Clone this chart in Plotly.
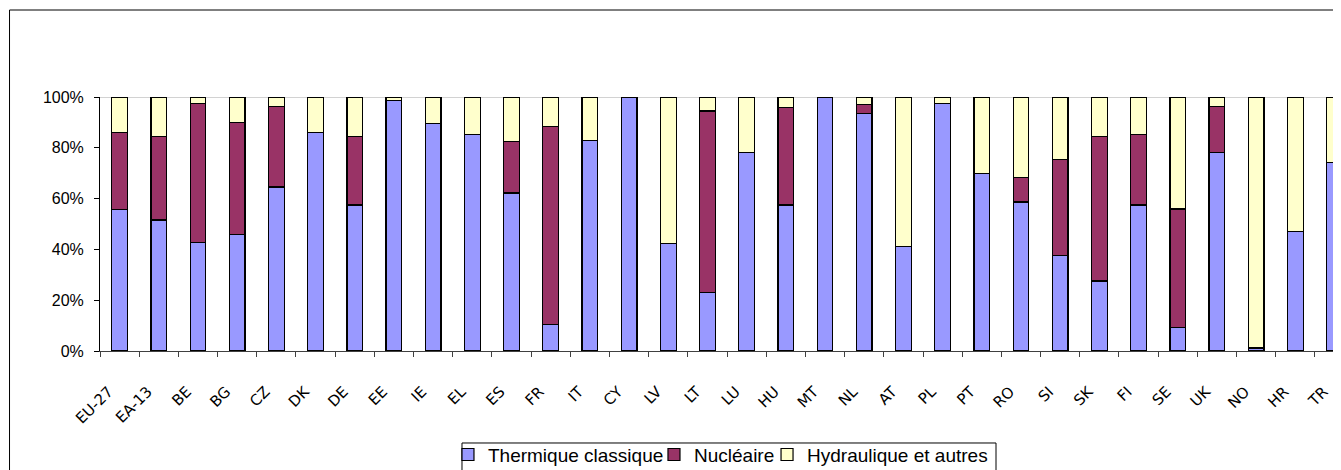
import plotly.graph_objects as go

categories = ["EU-27", "EA-13", "BE", "BG", "CZ", "DK", "DE", "EE", "IE", "EL", "ES", "FR",
              "IT", "CY", "LV", "LT", "LU", "HU", "MT", "NL", "AT", "PL", "PT", "RO", "SI",
              "SK", "FI", "SE", "UK", "NO", "HR", "TR"]

thermique = [55.8, 51.6, 42.8, 45.8, 64.6, 85.9, 57.5, 98.7, 89.5, 85.3, 62.2, 10.4,
             82.9, 100.0, 42.2, 22.9, 78.2, 57.5, 100.0, 93.6, 41.1, 97.6, 70.0, 58.7, 37.5,
             27.6, 57.5, 9.2, 78.2, 1.2, 47.0, 74.2]
nucleaire = [30.1, 33.0, 54.8, 44.2, 31.7, 0.0, 27.1, 0.0, 0.0, 0.0, 20.2, 77.9,
             0.0, 0.0, 0.0, 71.6, 0.0, 38.3, 0.0, 3.6, 0.0, 0.0, 0.0, 9.5, 37.8,
             57.0, 27.8, 46.7, 18.1, 0.0, 0.0, 0.0]
hydraulique = [round(100 - t - n, 1) for t, n in zip(thermique, nucleaire)]

series_names = ["Thermique classique", "Nucléaire", "Hydraulique et autres"]
series_colors = ["#9999FF", "#993366", "#FFFFCC"]
legend_ids = ["legend", "legend2", "legend3"]
legend_x = [0.2804, 0.4464, 0.5375]

fig = go.Figure()
for name, vals, col, lid in zip(series_names, [thermique, nucleaire, hydraulique],
                                series_colors, legend_ids):
    fig.add_trace(go.Bar(
        x=categories, y=[v / 100 for v in vals], name=name,
        marker=dict(color=col, line=dict(color="#000000", width=1.2)),
        width=0.4, legend=lid,
    ))

legend_font = dict(family="Liberation Sans, Arial, sans-serif", size=19, color="#000000")
legend_common = dict(orientation="h", xanchor="left", y=-0.408, yanchor="middle",
                     borderwidth=0, bgcolor="rgba(0,0,0,0)", font=legend_font, itemwidth=30)

fig.update_layout(
    template="none",
    barmode="stack",
    width=1341, height=470,
    margin=dict(l=92, r=8, t=89, b=127, autoexpand=False),
    paper_bgcolor="white", plot_bgcolor="white",
    showlegend=True,
    legend=dict(x=legend_x[0], **legend_common),
    legend2=dict(x=legend_x[1], **legend_common),
    legend3=dict(x=legend_x[2], **legend_common),
    xaxis=dict(
        range=[-0.5, 31.166], automargin=False,
        showline=True, linecolor="#404040", linewidth=1,
        ticks="outside", tickson="boundaries", ticklen=5, tickcolor="#404040",
        tickangle=-45, showgrid=False, zeroline=False,
        ticklabelstandoff=25, ticklabelshift=-11,
        tickfont=dict(family="DejaVu Sans, Verdana, sans-serif", size=15, color="#000000"),
    ),
    yaxis=dict(
        range=[0, 1], tickvals=[0, 0.2, 0.4, 0.6, 0.8, 1.0], tickformat=".0%",
        automargin=False,
        showline=True, linecolor="#000000", linewidth=1,
        ticks="outside", ticklen=5, tickcolor="#000000",
        showgrid=False, zeroline=False, ticklabelstandoff=7,
        tickfont=dict(family="Liberation Sans, Arial, sans-serif", size=16, color="#000000"),
    ),
    shapes=[
        dict(type="line", xref="paper", yref="y", x0=0, x1=1, y0=1, y1=1,
             line=dict(color="#A6A6A6", width=1), layer="below"),
        dict(type="rect", xref="paper", yref="paper", x0=-0.0729, x1=1.2, y0=-1.0, y1=1.3425,
             line=dict(color="#000000", width=1), fillcolor="rgba(0,0,0,0)"),
        dict(type="rect", xref="paper", yref="paper", x0=0.2917, x1=0.722, y0=-0.6, y1=-0.3622,
             line=dict(color="#000000", width=1), fillcolor="rgba(0,0,0,0)"),
    ],
)

fig.write_html("out.html")
